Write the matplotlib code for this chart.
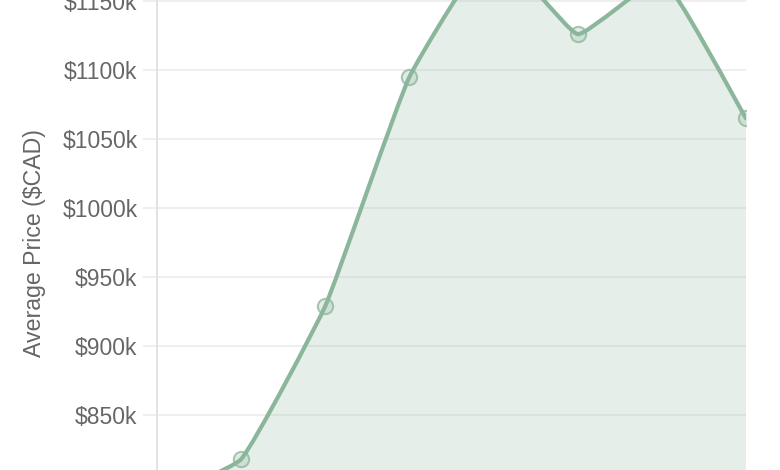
import numpy as np
import matplotlib
matplotlib.use("Agg")
import matplotlib.pyplot as plt
from matplotlib.path import Path
from matplotlib.patches import PathPatch
from matplotlib.ticker import FuncFormatter, FixedLocator

# data (average price, $k CAD)
periods = ["P1", "P2", "P3", "P4", "P5", "P6", "P7", "P8"]
prices = [788, 818, 929, 1095, 1188, 1126, 1166, 1065]
y_ticks = [850, 900, 950, 1000, 1050, 1100, 1150]

LINE = "#8bb69b"
FILL = (139/255, 182/255, 155/255, 0.22)
GRID = "#ebebeb"
TEXT = "#666666"

plt.rcParams['font.family'] = ['Liberation Sans', 'DejaVu Sans']

fig = plt.figure(figsize=(7.8, 4.7), dpi=100)
ax = fig.add_axes([157/780, (470-553)/470, 589/780, 621/470])
ax.set_xlim(0, len(prices) - 1)
ax.set_ylim(750, 1200)

x = np.arange(len(prices), dtype=float)
y = np.array(prices, dtype=float)

# Chart.js style bezier (low tension) computed in display space
fig.canvas.draw()
pts = ax.transData.transform(np.column_stack([x, y]))
t = 0.12
n = len(pts)
cps_prev = np.zeros_like(pts)
cps_next = np.zeros_like(pts)
for i in range(n):
    prev = pts[i - 1] if i > 0 else pts[i]
    cur = pts[i]
    nxt = pts[i + 1] if i < n - 1 else pts[i]
    d01 = np.hypot(*(cur - prev))
    d12 = np.hypot(*(nxt - cur))
    tot = d01 + d12
    s01 = d01 / tot if tot else 0
    s12 = d12 / tot if tot else 0
    cps_prev[i] = cur - t * s01 * (nxt - prev)
    cps_next[i] = cur + t * s12 * (nxt - prev)

inv = ax.transData.inverted()
verts = [tuple(inv.transform(pts[0]))]
codes = [Path.MOVETO]
for i in range(n - 1):
    verts += [tuple(inv.transform(cps_next[i])), tuple(inv.transform(cps_prev[i + 1])),
              tuple(inv.transform(pts[i + 1]))]
    codes += [Path.CURVE4] * 3

line_path = Path(verts, codes)
fill_verts = verts + [(x[-1], 750), (x[0], 750), verts[0]]
fill_codes = codes + [Path.LINETO, Path.LINETO, Path.CLOSEPOLY]
ax.add_patch(PathPatch(Path(fill_verts, fill_codes), facecolor=FILL, edgecolor='none', zorder=2))
ax.add_patch(PathPatch(line_path, facecolor='none', edgecolor=LINE, lw=3.0, zorder=3,
                       capstyle='round', joinstyle='round'))
ax.plot(x, y, linestyle='none', marker='o', markersize=11,
        markerfacecolor=(139/255, 182/255, 155/255, 0.25),
        markeredgecolor=(139/255, 182/255, 155/255, 0.75), markeredgewidth=1.5, zorder=4)

ax.yaxis.set_major_locator(FixedLocator(y_ticks))
ax.yaxis.set_major_formatter(FuncFormatter(lambda v, p: f"${int(v)}k"))
ax.grid(axis='y', color=GRID, lw=1.1, zorder=0)
ax.set_xticks([])
ax.tick_params(axis='y', length=10, width=1.1, color=GRID, pad=4, labelsize=16.5, labelcolor=TEXT)
for s in ['top', 'right', 'bottom']:
    ax.spines[s].set_visible(False)
ax.spines['left'].set_color('#e0e0e0')
ax.spines['left'].set_linewidth(1.3)
ax.set_ylabel("Average Price ($CAD)", fontsize=16.7, color=TEXT)
ax.yaxis.set_label_coords((46 - 157) / 589, (553 - 243.5) / 621)

fig.savefig("out.png", dpi=100)
